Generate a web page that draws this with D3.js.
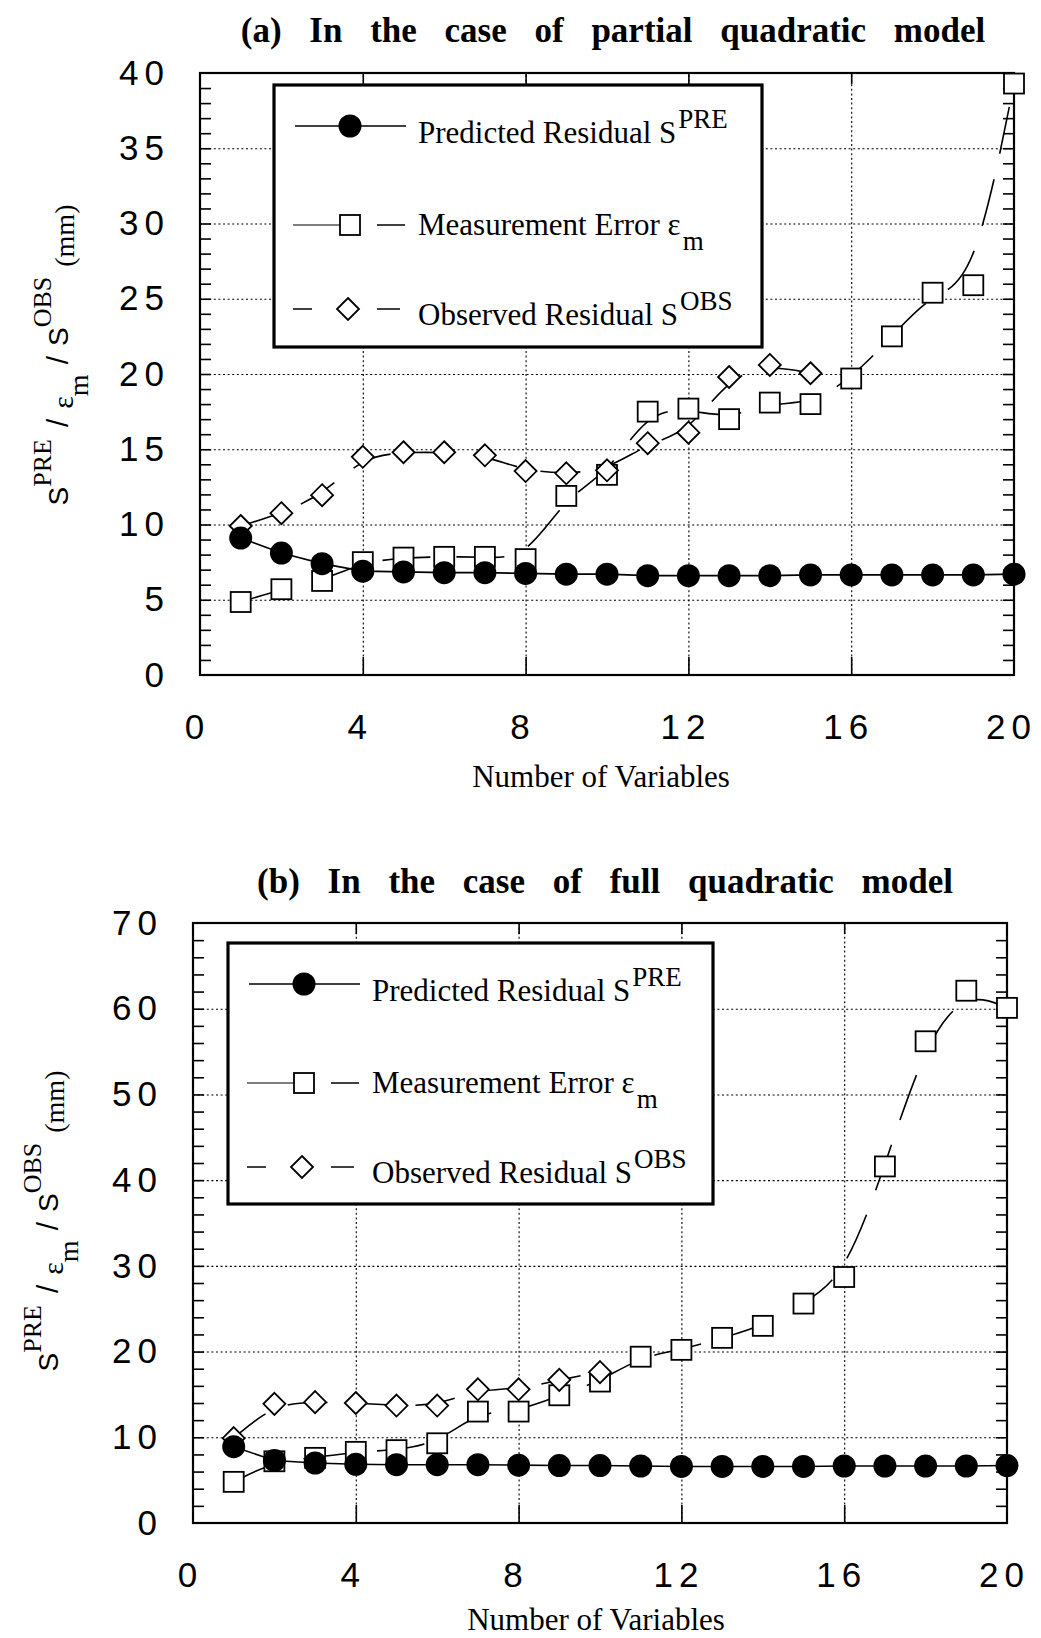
<!DOCTYPE html>
<html>
<head>
<meta charset="utf-8">
<script src="https://cdn.jsdelivr.net/npm/d3@7"></script>
<style>
  body { margin: 0; background: #fff; }
  svg { display: block; background: #fff; }
</style>
</head>
<body>
<svg id="chart" width="1041" height="1638"></svg>
<script>
// values
var nVars = [1, 2, 3, 4, 5, 6, 7, 8, 9, 10, 11, 12, 13, 14, 15, 16, 17, 18, 19, 20]
var xTickVals = [0, 4, 8, 12, 16, 20]
var yTickValsA = [0, 5, 10, 15, 20, 25, 30, 35, 40]
var yTickValsB = [0, 10, 20, 30, 40, 50, 60, 70]

// (a) partial quadratic model
var predA = [9.1, 8.1, 7.4, 6.9, 6.85, 6.8, 6.8, 6.75, 6.7, 6.7, 6.6, 6.6, 6.6, 6.6, 6.65, 6.65, 6.65, 6.65, 6.65, 6.7]
var errA = [4.85, 5.7, 6.25, 7.5, 7.8, 7.85, 7.85, 7.7, 11.9, 13.3, 17.5, 17.7, 17.0, 18.1, 18.0, 19.7, 22.5, 25.4, 25.9, 39.3]
var obsA = [9.9, 10.75, 11.95, 14.5, 14.8, 14.8, 14.6, 13.55, 13.4, 13.6, 15.4, 16.1, 19.8, 20.6, 20.05]

// (b) full quadratic model
var predB = [8.9, 7.3, 7.0, 6.85, 6.8, 6.8, 6.8, 6.75, 6.7, 6.7, 6.65, 6.6, 6.6, 6.6, 6.6, 6.65, 6.65, 6.65, 6.65, 6.7]
var errB = [4.8, 7.2, 7.6, 8.3, 8.5, 9.3, 13.0, 13.0, 14.9, 16.5, 19.4, 20.2, 21.6, 23.0, 25.6, 28.7, 41.6, 56.2, 62.1, 60.1]
var obsB = [9.9, 13.9, 14.1, 14.0, 13.7, 13.7, 15.6, 15.6, 16.7, 17.6]

var serif = "'Liberation Serif', 'Times New Roman', serif"
var sans = "'Liberation Sans', Arial, Helvetica, sans-serif"

var svg = d3.select('#chart')

function zip (ys) {
  return ys.map((v, i) => ({x: nVars[i], y: v}))
}

function panel (cfg) {
  /*
      --------------------------------------
      Scales
  */
  var x = d3.scaleLinear().domain([0, 20]).range([cfg.left, cfg.right])
  var y = d3.scaleLinear().domain([0, cfg.ymax]).range([cfg.bottom, cfg.top])
  var w = cfg.right - cfg.left
  var h = cfg.bottom - cfg.top

  var g = svg.append('g').classed('panel', true)

  /*
      --------------------------------------
      Dotted grid
  */
  var gy = g.append('g')
      .attr('transform', `translate(${cfg.left},0)`)
      .call(d3.axisLeft(y).tickValues(cfg.yTicks.slice(1, -1)).tickSize(-w).tickFormat(''))
  var gx = g.append('g')
      .attr('transform', `translate(0,${cfg.bottom})`)
      .call(d3.axisBottom(x).tickValues([4, 8, 12, 16]).tickSize(-h).tickFormat(''))
  ;[gy, gx].forEach(s => {
    s.select('.domain').remove()
    s.selectAll('line').attr('stroke', '#000').attr('stroke-width', 1.1).attr('stroke-dasharray', '2,2.6')
  })

  /*
      --------------------------------------
      Inner ticks
  */
  var minor = d3.range(cfg.minorStep, cfg.ymax, cfg.minorStep)
  var tl = g.append('g').attr('transform', `translate(${cfg.left},0)`)
      .call(d3.axisLeft(y).tickValues(minor).tickSize(-11).tickFormat(''))
  var tr = g.append('g').attr('transform', `translate(${cfg.right},0)`)
      .call(d3.axisRight(y).tickValues(minor).tickSize(-11).tickFormat(''))
  var tb = g.append('g').attr('transform', `translate(0,${cfg.bottom})`)
      .call(d3.axisBottom(x).tickValues([4, 8, 12, 16]).tickSize(-18).tickFormat(''))
  var tt = g.append('g').attr('transform', `translate(0,${cfg.top})`)
      .call(d3.axisTop(x).tickValues([4, 8, 12, 16]).tickSize(-11).tickFormat(''))
  ;[tl, tr, tb, tt].forEach(s => {
    s.select('.domain').remove()
    s.selectAll('line').attr('stroke', '#000').attr('stroke-width', 1.6)
  })

  /*
      --------------------------------------
      Tick labels
  */
  var ly = g.append('g').attr('transform', `translate(${cfg.left},0)`)
      .call(d3.axisLeft(y).tickValues(cfg.yTicks).tickSize(0).tickPadding(30))
  var lx = g.append('g').attr('transform', `translate(0,${cfg.bottom})`)
      .call(d3.axisBottom(x).tickValues(xTickVals).tickSize(0).tickPadding(39))
  ;[ly, lx].forEach(s => {
    s.select('.domain').remove()
    s.attr('font-family', null).attr('font-size', null)
    s.selectAll('text')
        .attr('fill', '#000')
        .style('font-family', sans)
        .style('font-size', '35px')
        .style('letter-spacing', '6px')
  })
  lx.selectAll('text').attr('dx', -3)

  // frame
  g.append('rect')
      .attr('x', cfg.left).attr('y', cfg.top)
      .attr('width', w).attr('height', h)
      .attr('fill', 'none').attr('stroke', '#000').attr('stroke-width', 2.2)

  /*
      --------------------------------------
      Legend
  */
  var bx = cfg.legend[0]
  var by = cfg.legend[1]
  var lg = g.append('g').classed('legend', true)
  lg.append('rect')
      .attr('x', bx).attr('y', by)
      .attr('width', cfg.legend[2]).attr('height', cfg.legend[3])
      .attr('fill', '#fff').attr('stroke', '#000').attr('stroke-width', 3.2)

  function seg (x1, x2, yy, w) {
    lg.append('line').attr('x1', x1).attr('x2', x2).attr('y1', yy).attr('y2', yy)
        .attr('stroke', '#000').attr('stroke-width', w || 1.5)
  }
  seg(bx + 21, bx + 132, by + 41)
  circle(lg, bx + 76, by + 41)
  seg(bx + 19, bx + 66, by + 140, 1.1)
  seg(bx + 103, bx + 131, by + 140)
  square(lg, bx + 76, by + 140)
  seg(bx + 19, bx + 38, by + 224)
  seg(bx + 103, bx + 126, by + 224)
  diamond(lg, bx + 74, by + 224)

  var rows = [
    {t: 'Predicted Residual S', s: 'PRE', dy: -15, yy: 58},
    {t: 'Measurement Error \u03b5', s: 'm', dy: 15, yy: 150},
    {t: 'Observed Residual S', s: 'OBS', dy: -15, yy: 240}
  ]
  rows.forEach(r => {
    var t = lg.append('text')
        .attr('x', bx + 144).attr('y', by + r.yy)
        .style('font-family', serif).style('font-size', '31px')
    t.append('tspan').text(r.t)
    t.append('tspan').attr('dy', r.dy).attr('dx', 2).style('font-size', '27px').text(r.s)
  })

  /*
      --------------------------------------
      Series
  */
  var smooth = d3.line().x(d => x(d.x)).y(d => y(d.y)).curve(d3.curveBasis)
  var straight = d3.line().x(d => x(d.x)).y(d => y(d.y))

  g.append('path').datum(zip(cfg.err))
      .attr('d', smooth).attr('fill', 'none')
      .attr('stroke', '#000').attr('stroke-width', 1.6).attr('stroke-dasharray', '48,26')
  g.append('path').datum(zip(cfg.obs))
      .attr('d', smooth).attr('fill', 'none')
      .attr('stroke', '#000').attr('stroke-width', 1.6).attr('stroke-dasharray', '40,24')
  g.append('path').datum(zip(cfg.pred))
      .attr('d', straight).attr('fill', 'none')
      .attr('stroke', '#000').attr('stroke-width', 1.6)

  zip(cfg.err).forEach(d => square(g, x(d.x), y(d.y)))
  zip(cfg.obs).forEach(d => diamond(g, x(d.x), y(d.y)))
  zip(cfg.pred).forEach(d => circle(g, x(d.x), y(d.y)))

  /*
      --------------------------------------
      Titles
  */
  g.append('text')
      .attr('x', cfg.title[0]).attr('y', cfg.title[1])
      .attr('text-anchor', 'middle')
      .style('font-family', serif).style('font-size', '35px')
      .style('font-weight', 'bold').style('word-spacing', '19px')
      .text(cfg.titleText)

  g.append('text')
      .attr('x', cfg.xlab[0]).attr('y', cfg.xlab[1])
      .attr('text-anchor', 'middle')
      .style('font-family', serif).style('font-size', '31px')
      .text('Number of Variables')

  yTitle(g, cfg.ylab[0], cfg.ylab[1])
}

function square (sel, cx, cy) {
  sel.append('rect')
      .attr('x', cx - 10).attr('y', cy - 10)
      .attr('width', 20).attr('height', 20)
      .attr('fill', '#fff').attr('stroke', '#000').attr('stroke-width', 1.8)
}

function diamond (sel, cx, cy) {
  var r = 11
  sel.append('path')
      .attr('d', `M${cx},${cy - r}L${cx + r},${cy}L${cx},${cy + r}L${cx - r},${cy}Z`)
      .attr('fill', '#fff').attr('stroke', '#000').attr('stroke-width', 1.8)
}

function circle (sel, cx, cy) {
  sel.append('circle')
      .attr('cx', cx).attr('cy', cy).attr('r', 11.5)
      .attr('fill', '#000')
}

function yTitle (g, cx, cy) {
  var t = g.append('text')
      .attr('transform', `translate(${cx},${cy}) rotate(-90)`)
      .attr('text-anchor', 'middle')
  var parts = [
    {s: 'S', f: sans, size: 28},
    {s: 'PRE', f: serif, size: 26, dy: -17},
    {s: '/', f: sans, size: 30, dy: 17, dx: 12},
    {s: '\u03b5', f: serif, size: 30, dy: 5, dx: 10},
    {s: 'm', f: serif, size: 28, dy: 15},
    {s: '/', f: sans, size: 30, dy: -20, dx: 10},
    {s: 'S', f: sans, size: 28, dx: 10},
    {s: 'OBS', f: serif, size: 26, dy: -17},
    {s: '(mm)', f: serif, size: 28, dy: 23, dx: 10}
  ]
  parts.forEach(p => {
    t.append('tspan')
        .attr('dx', p.dx || 0).attr('dy', p.dy || 0)
        .style('font-family', p.f).style('font-size', p.size + 'px')
        .text(p.s)
  })
}

panel({
  left: 200, right: 1014, top: 73, bottom: 675, ymax: 40, minorStep: 1,
  yTicks: yTickValsA,
  pred: predA, err: errA, obs: obsA,
  legend: [274, 85, 488, 262],
  title: [613, 42], titleText: '(a) In the case of partial quadratic model',
  xlab: [601, 787], ylab: [68, 355]
})

panel({
  left: 193, right: 1007, top: 923, bottom: 1523, ymax: 70, minorStep: 2,
  yTicks: yTickValsB,
  pred: predB, err: errB, obs: obsB,
  legend: [228, 943, 485, 261],
  title: [605, 893], titleText: '(b) In the case of full quadratic model',
  xlab: [596, 1630], ylab: [58, 1221]
})
</script>
</body>
</html>
